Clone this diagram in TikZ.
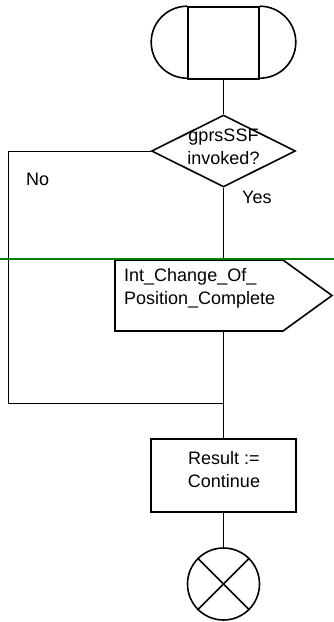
\documentclass[tikz,border=0pt]{standalone}
\usepackage{fontspec}
\setmainfont{Liberation Sans}
\usetikzlibrary{shapes.geometric}
\definecolor{flowgreen}{RGB}{0,128,0}
\begin{document}
\begin{tikzpicture}[x=1pt,y=-1pt,
  thick line/.style={line width=1.6pt},
  thin line/.style={line width=1pt},
  label text/.style={font=\fontsize{18}{23}\selectfont, inner sep=0pt, align=center},
  startbox/.style={draw, thick line, rectangle, minimum width=71pt, minimum height=72pt, inner sep=0pt},
  decision/.style={draw, thick line, diamond, minimum width=144pt, minimum height=72pt, inner sep=0pt},
  taskbox/.style={draw, thick line, rectangle, minimum width=145pt, minimum height=73pt, inner sep=0pt},
  stopsign/.style={draw, thick line, circle, minimum size=72pt, inner sep=0pt}]
\useasboundingbox (0,0) rectangle (334,622);

% start symbol: box with rounded ends
\node[startbox] (start) at (223.5,43) {};
\draw[thick line] (start.north west) arc[start angle=90, end angle=270, radius=36pt];
\draw[thick line] (start.north east) arc[start angle=90, end angle=-90, radius=36pt];

% decision
\node[decision] (dec) at (223.5,151) {};
\node[label text] (dectext) at (223.5,146.5) {gprsSSF\\invoked?};
\node[label text, anchor=west] (no) at (26,179) {No};
\node[label text, anchor=west] (yes) at (242,197) {Yes};

% output signal
\coordinate (sigtop) at (223.5,260);
\coordinate (sigbot) at (223.5,331);
\draw[thick line, line join=miter] (115,260) -- (283,260) -- (332,295.5) -- (283,331) -- (115,331) -- cycle;
\node[label text, anchor=west, align=left] (sigtext) at (124,288.5) {Int\_Change\_Of\_\\Position\_Complete};

% task
\node[taskbox] (task) at (223.5,475.5) {};
\node[label text] (tasktext) at (224,469.5) {Result :=\\Continue};

% stop
\node[stopsign] (stop) at (223.5,584) {};
\draw[thick line] (stop.north west) -- (stop.south east);
\draw[thick line] (stop.north east) -- (stop.south west);

% connectors
\coordinate (loopjoin) at (223.5,403);
\coordinate (loopleft) at (8,151);
\coordinate (loopbottom) at (8,403);
\draw[thick line] (start.south) -- (dec.north);
\draw[thick line] (dec.south) -- (sigtop);
\draw[thick line] (sigbot) -- (task.north);
\draw[thick line] (task.south) -- (stop.north);
\draw[thin line] (dec.west) -- (loopleft) -- (loopbottom) -- (loopjoin);

% separator line
\coordinate (sepl) at (0,259);
\coordinate (sepr) at (334,259);
\draw[flowgreen, line width=1.4pt] (sepl) -- (sepr);
\end{tikzpicture}
\end{document}
